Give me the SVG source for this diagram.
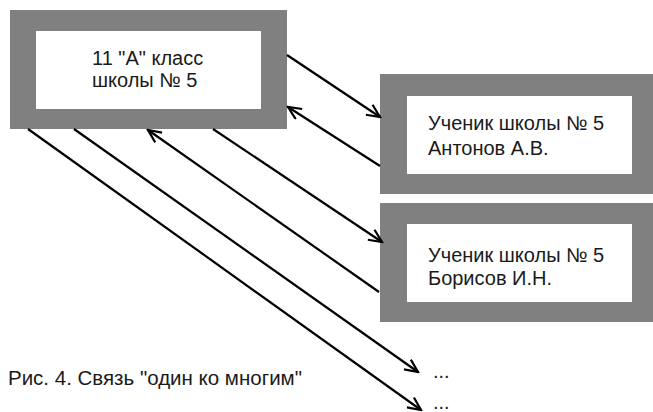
<svg xmlns="http://www.w3.org/2000/svg" width="653" height="412" viewBox="0 0 653 412">
<style>
.outer{fill:#808080}
.inner{fill:#ffffff}
.t{font-family:"Liberation Sans",Arial,sans-serif;font-size:20px;fill:#1a1a1a}
.cap{font-size:20.5px}
.c{fill:none;stroke:#000;stroke-width:2.2}
</style>
<defs>
<marker id="arr" markerUnits="userSpaceOnUse" markerWidth="16" markerHeight="14" viewBox="0 0 16 14" refX="14" refY="7" orient="auto">
<path d="M1,1 L14,7 L1,13" fill="none" stroke="#000" stroke-width="2.2"/>
</marker>
</defs>
<rect width="653" height="412" fill="#fff"/>
<g id="class">
<rect class="outer" x="10" y="10" width="277" height="119"/>
<rect class="inner" x="36" y="31" width="225" height="78"/>
<text class="t" x="92" y="65">11 "A" класс</text>
<text class="t" x="92" y="87">школы № 5</text>
</g>
<g id="antonov">
<rect class="outer" x="380" y="74" width="280" height="120"/>
<rect class="inner" x="407" y="96" width="225" height="78"/>
<text class="t" x="428" y="130">Ученик школы № 5</text>
<text class="t" x="428" y="155">Антонов А.В.</text>
</g>
<g id="borisov">
<rect class="outer" x="380" y="203" width="280" height="119"/>
<rect class="inner" x="407" y="224" width="225" height="78"/>
<text class="t" x="428" y="262">Ученик школы № 5</text>
<text class="t" x="428" y="285">Борисов И.Н.</text>
</g>
<g id="connectors">
<line class="c" x1="287" y1="55" x2="380" y2="117" marker-end="url(#arr)"/>
<line class="c" x1="380" y1="166" x2="288" y2="107" marker-end="url(#arr)"/>
<line class="c" x1="213" y1="129" x2="382" y2="242" marker-end="url(#arr)"/>
<line class="c" x1="379" y1="292" x2="148" y2="130" marker-end="url(#arr)"/>
<line class="c" x1="74" y1="129" x2="418" y2="372" marker-end="url(#arr)"/>
<line class="c" x1="28" y1="129" x2="421" y2="410" marker-end="url(#arr)"/>
</g>
<g id="more">
<text class="t" x="433" y="378">...</text>
<text class="t" x="433" y="409">...</text>
</g>
<text class="t cap" x="8" y="385">Рис. 4. Связь "один ко многим"</text>
</svg>
